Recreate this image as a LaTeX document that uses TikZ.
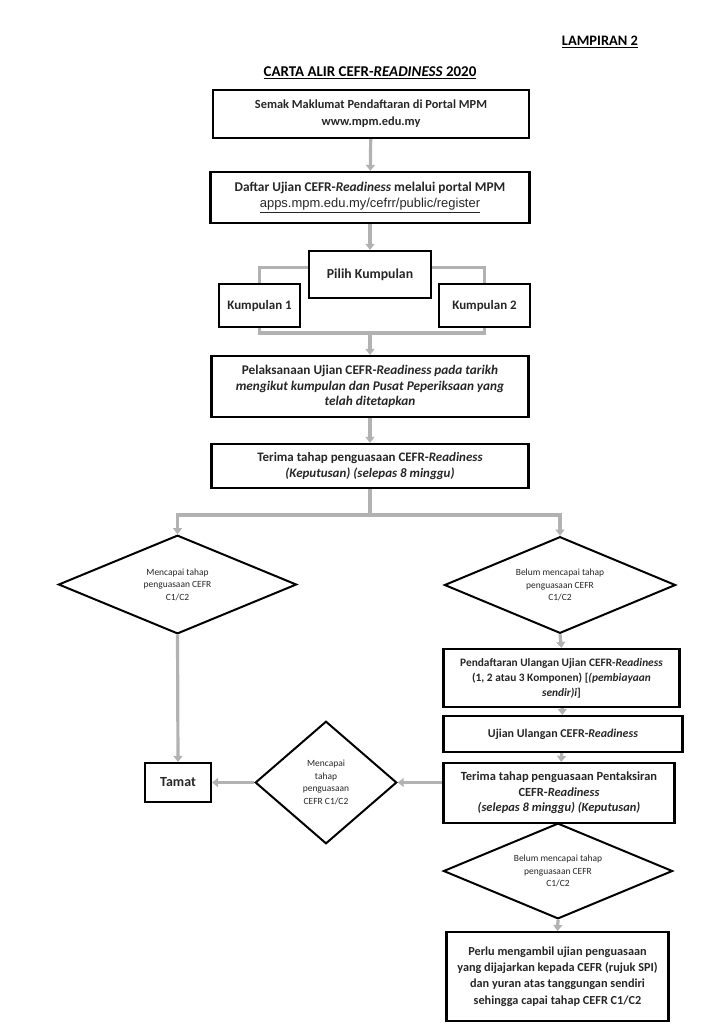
\documentclass[tikz,border=0pt]{standalone}
\usepackage{fontspec}
\setmainfont{Carlito}
\newfontfamily\urlfont{Liberation Sans}
\usetikzlibrary{shapes.geometric,arrows.meta}

\tikzset{
  box/.style={draw, line width=2.4pt, inner sep=0pt, align=center, text=black!85,
    font=\fontsize{12}{16.3}\selectfont\bfseries},
  fs/.style 2 args={font=\fontsize{#1}{#2}\selectfont\bfseries},
  dec/.style={diamond, aspect=2.4, draw, line width=2pt, inner sep=0pt, align=center, text=black!85,
    font=\fontsize{9.5}{12.6}\selectfont},
  link/.style={draw=gray!60, line width=3.2pt},
  flow/.style={link, -{Triangle[width=9pt,length=6pt]}},
}

\begin{document}
\begin{tikzpicture}[x=1bp, y=-1bp]
\useasboundingbox (0,0) rectangle (724,1024);

% judul
\node (lamp) at (600,42) {\fontsize{14.5}{17}\selectfont\bfseries\underline{LAMPIRAN 2}};
\node (title) at (370,73) {\fontsize{15}{18}\selectfont\bfseries\underline{CARTA ALIR CEFR-\textit{READINESS} 2020}};

% lajur tengah
\node[box, fs={12.4}{17}, minimum width=317, minimum height=48] (semak) at (371,114)
  {Semak Maklumat Pendaftaran di Portal MPM\\www.mpm.edu.my};
\node[box, fs={13.4}{16}, minimum width=320, minimum height=51] (daftar) at (370,197.5)
  {Daftar Ujian CEFR-\textit{Readiness} melalui portal MPM\\
   {\urlfont\mdseries\fontsize{13}{16}\selectfont\underline{apps.mpm.edu.my/cefrr/public/register}}};
\node[box, fs={13.8}{16}, minimum width=122, minimum height=47] (pilih) at (370,274.5) {Pilih Kumpulan};
\node[box, fs={13}{16}, minimum width=81, minimum height=43] (kump1) at (259.5,305.5) {Kumpulan 1};
\node[box, fs={13}{16}, minimum width=91, minimum height=43] (kump2) at (484.5,305.5) {Kumpulan 2};
\node[box, fs={13.3}{15.2}, minimum width=318, minimum height=61] (laksana) at (370,386.5)
  {Pelaksanaan Ujian CEFR-\textit{Readiness pada tarikh}\\
   \textit{mengikut kumpulan dan Pusat Peperiksaan yang}\\
   \textit{telah ditetapkan}};
\node[box, fs={13}{15.2}, minimum width=318, minimum height=44] (terima) at (370,466)
  {Terima tahap penguasaan CEFR-\textit{Readiness}\\\textit{(Keputusan) (selepas 8 minggu)}};

% keputusan
\node[dec, minimum width=239, minimum height=99] (capai) at (177.5,584.5)
  {Mencapai tahap\\penguasaan CEFR\\C1/C2};
\node[dec, minimum width=232, minimum height=97] (belum) at (560,585)
  {Belum mencapai tahap\\penguasaan CEFR\\C1/C2};

% lajur kanan
\node[box, fs={11.4}{15}, minimum width=237, minimum height=58] (ulang) at (561.5,678)
  {Pendaftaran Ulangan Ujian CEFR-\textit{Readiness}\\
   (1, 2 atau 3 Komponen) [\textit{(pembiayaan}\\
   {\fboxrule=0pt\fboxsep=0pt\fbox{\textit{sendir)i}]}}};
\node[box, fs={12}{15}, minimum width=240, minimum height=36] (ujian) at (563,734)
  {Ujian Ulangan CEFR-\textit{Readiness}};
\node[box, fs={12.5}{15.5}, minimum width=232, minimum height=60] (terima2) at (559,793)
  {Terima tahap penguasaan Pentaksiran\\CEFR-\textit{Readiness}\\
   \textit{(selepas 8 minggu) (Keputusan)}};
\node[dec, minimum width=230, minimum height=96] (belum2) at (558,871)
  {Belum mencapai tahap\\penguasaan CEFR\\C1/C2};
\node[box, fs={12.3}{16.3}, minimum width=223, minimum height=89] (perlu) at (557.5,976.5)
  {Perlu mengambil ujian penguasaan\\yang dijajarkan kepada CEFR (rujuk SPI)\\
   dan yuran atas tanggungan sendiri\\sehingga capai tahap CEFR C1/C2};

% tamat
\node[dec, aspect=1.15, minimum width=142, minimum height=123] (semula) at (326,782.5)
  {Mencapai\\tahap\\penguasaan\\CEFR C1/C2};
\node[box, fs={14}{16}, minimum width=66, minimum height=39] (tamat) at (178,782.5) {Tamat};

% sambungan
\coordinate (gabung) at (370,333);
\coordinate (pecah) at (370,515);
\draw[flow] (semak) -- (daftar);
\draw[flow] (daftar) -- (pilih);
\draw[link] ([yshift=7bp]pilih.west) -| (kump1.north);
\draw[link] ([yshift=7bp]pilih.east) -| (kump2.north);
\draw[link] (kump1.south) |- (gabung) -| (kump2.south);
\draw[flow] (gabung) -- (laksana.north);
\draw[flow] (laksana) -- (terima);
\draw[link] (terima.south) -- (pecah);
\draw[flow] (pecah) -| (capai.north);
\draw[flow] (pecah) -| (belum.north);
\draw[flow] (capai.south) -- (tamat.north);
\draw[flow] (belum.south) -- (ulang.north);
\draw[flow] (ulang) -- (ujian);
\draw[flow] (ujian) -- (terima2);
\draw[flow] (terima2.west |- semula.east) -- (semula.east);
\draw[flow] (semula.west) -- (tamat.east);
\draw[flow] (belum2.south) -- (perlu.north);
\end{tikzpicture}
\end{document}
